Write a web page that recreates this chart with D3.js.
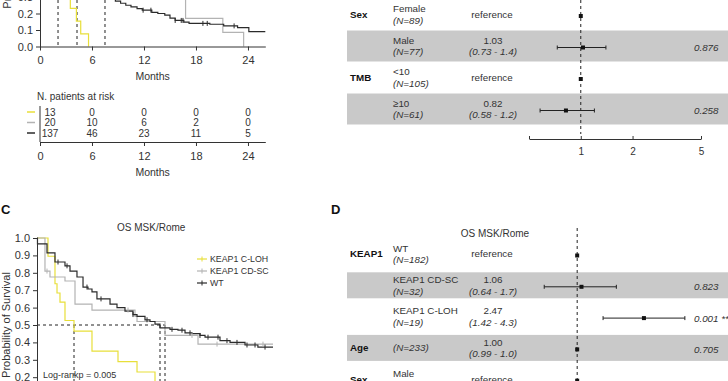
<!DOCTYPE html>
<html>
<head>
<meta charset="utf-8">
<title>KEAP1 survival</title>
<script src="https://d3js.org/d3.v7.min.js"></script>
<style>
  body { margin: 0; background: #fff; }
  svg { display: block; font-family: "Liberation Sans", Arial, sans-serif; }
  .axis text { fill: #333; }
  .axis path, .axis line { stroke: #333; }
</style>
</head>
<body>
<div id="chart"></div>
<script>
// ---------- data ----------
// group names / colours used by both KM panels
var groups = ['KEAP1 C-LOH', 'KEAP1 CD-SC', 'WT'];
var groupColors = ['#e8df3a', '#b3b3b3', '#2b2b2b'];

// panel B (top-left): [months, survival] steps, last point = end of follow-up
var bCloh = [[0,1],[0.5,0.92],[1,0.85],[1.5,0.69],[2.08,0.46],[3,0.38],[3.5,0.231],[4.2,0.154],[4.7,0.077],[5.6,0]];
var bCdsc = [[0,1],[1,0.95],[2,0.85],[3,0.75],[4,0.7],[5,0.6],[6,0.55],[7.5,0.45],[9,0.4],[11,0.35],[14,0.32],[16.8,0.17],[21.1,0.085],[23.5,0]];
var bWt = [[0,1],[0.5,0.93],[1,0.86],[1.5,0.8],[2,0.74],[2.5,0.68],[3,0.62],[3.5,0.57],[4.27,0.49],[5,0.44],[5.8,0.39],
           [6.5,0.35],[7.3,0.32],[8,0.3],[8.7,0.275],[9.3,0.262],[9.9,0.25],[10.5,0.24],[11.2,0.23],[11.8,0.22],
           [12.9,0.207],[13.6,0.2],[14.4,0.19],[15.0,0.172],[15.6,0.158],[16.6,0.148],[17.2,0.14],[19.6,0.135],
           [21.2,0.125],[22.8,0.115],[24.1,0.09],[26,0.09]];
var bWtCensor = [11.9, 12.8, 15.6, 16.3, 16.5, 18.8, 19.3, 22.4];
var bMedians = [2.08, 4.27, 7.5];
var bTicks = [0, 6, 12, 18, 24];

// risk table under panel B
var riskTimes = [0, 6, 12, 18, 24];
var riskCloh = [13, 0, 0, 0, 0];
var riskCdsc = [20, 10, 6, 2, 0];
var riskWt = [137, 46, 23, 11, 5];

// panel C: OS MSK/Rome
var cCloh = [[0,1],[2.33,0.895],[3.81,0.737],[4.24,0.684],[4.87,0.632],[5.93,0.526],[7.84,0.465],[11.65,0.35],
             [17.16,0.29],[21.19,0.23],[25.0,0.116],[31,0.116]];
var cCdsc = [[0,1],[1.69,0.81],[2.75,0.776],[5.93,0.753],[8.05,0.62],[11.65,0.586],[20.76,0.55],[21.19,0.52],
             [27.12,0.44],[34.11,0.39],[50,0.39]];
var cWt = [[0,1],[0.1,0.966],[2.12,0.914],[3.81,0.862],[5.93,0.84],[6.99,0.81],[8.47,0.776],[9.75,0.718],[10.8,0.707],
           [11.65,0.69],[12.7,0.65],[15.47,0.62],[16.95,0.6],[18.64,0.58],[20.34,0.56],[21.19,0.55],[22.88,0.53],
           [23.94,0.52],[25.0,0.505],[26.06,0.483],[28.18,0.475],[29.87,0.47],[31.36,0.455],[32.84,0.45],[34.53,0.44],
           [35.6,0.43],[38.77,0.41],[40.9,0.4],[44.07,0.385],[46.8,0.373],[50,0.373]];
var cWtCensor = [4.45, 6.36, 10.59, 13.56, 20.34, 23.31, 28.6, 30.72, 32.42, 34.53, 36.23, 38.35, 40.25, 42.37, 44.49, 46.19, 48.31];
var cCdscCensor = [2.12, 19.28, 32.84, 38.14, 47.88];
var cMedians = [7.84, 26.06, 27.12];
var survTicks = [0, 0.1, 0.2, 0.3, 0.4, 0.5, 0.6, 0.7, 0.8, 0.9, 1];

// forest (top-right)
var aVars = ['Sex', '', 'TMB', ''];
var aLevels = ['Female', 'Male', '<10', '\u226510'];
var aN = [89, 77, 105, 61];
var aHR = [1, 1.03, 1, 0.82];
var aLo = [null, 0.73, null, 0.58];
var aHi = [null, 1.4, null, 1.2];
var aP = ['', '0.876', '', '0.258'];
var forestTicks = [0.5, 1, 2, 5];

// forest D: OS MSK/Rome
var dVars = ['KEAP1', '', '', 'Age', 'Sex'];
var dLevels = ['WT', 'KEAP1 CD-SC', 'KEAP1 C-LOH', '', 'Male'];
var dN = [182, 32, 19, 233, 128];
var dHR = [1, 1.06, 2.47, 1.00, 1];
var dLo = [null, 0.64, 1.42, 0.99, null];
var dHi = [null, 1.7, 4.3, 1.0, null];
var dP = ['', '0.823', '0.001', '0.705', ''];
var dStars = ['', '', ' **', '', ''];

// ---------- drawing ----------
var width = 728, height = 381;
var svg = d3.select('#chart').append('svg').attr('width', width).attr('height', height);

var textCol = '#333';

function survAt(steps, t) {
  var s = steps[0][1];
  steps.forEach(function (d) { if (d[0] <= t) s = d[1]; });
  return s;
}

function drawKM(g, x, y, series, censors) {
  var line = d3.line().x(function (d) { return x(d[0]); }).y(function (d) { return y(d[1]); }).curve(d3.curveStepAfter);
  series.forEach(function (s, i) {
    g.append('path').attr('d', line(s)).attr('fill', 'none')
      .attr('stroke', groupColors[i]).attr('stroke-width', 1.2);
  });
  censors.forEach(function (c) {
    c.times.forEach(function (t) {
      var cx = x(t), cy = y(survAt(series[c.idx], t));
      g.append('line').attr('x1', cx).attr('x2', cx).attr('y1', cy - 2.5).attr('y2', cy + 2.5)
        .attr('stroke', groupColors[c.idx]).attr('stroke-width', 1);
    });
  });
}

function styleAxis(g, size) {
  g.attr('class', 'axis').attr('font-size', size).attr('font-family', null);
}

// ---- panel B ----
var xB = d3.scaleLinear().domain([0, 26]).range([40, 265.3]);
var yB = d3.scaleLinear().domain([0, 1]).range([46.5, -118.5]);
var gB = svg.append('g');

gB.append('text').attr('transform', 'translate(11,' + yB(0.55) + ') rotate(-90)')
  .attr('text-anchor', 'middle').attr('font-size', 11).attr('fill', textCol).text('Probability of Survival');

// medians
gB.append('line').attr('x1', xB(0)).attr('x2', xB(d3.max(bMedians))).attr('y1', yB(0.5)).attr('y2', yB(0.5))
  .attr('stroke', '#222').attr('stroke-dasharray', '3,3');
bMedians.forEach(function (m) {
  gB.append('line').attr('x1', xB(m)).attr('x2', xB(m)).attr('y1', yB(0.5)).attr('y2', yB(0))
    .attr('stroke', '#222').attr('stroke-dasharray', '3,3');
});

drawKM(gB, xB, yB, [bCloh, bCdsc, bWt], [{idx: 2, times: bWtCensor}]);

var yAxB = gB.append('g').attr('transform', 'translate(' + xB(0) + ',0)')
  .call(d3.axisLeft(yB).tickValues(survTicks).tickFormat(d3.format('.1f')).tickSize(4).tickSizeOuter(0));
styleAxis(yAxB, 11);
var xAxB = gB.append('g').attr('transform', 'translate(0,' + yB(0) + ')')
  .call(d3.axisBottom(xB).tickValues(bTicks).tickSize(4).tickSizeOuter(0).tickPadding(6));
styleAxis(xAxB, 11);
gB.append('text').attr('x', xB(13)).attr('y', 79.5).attr('text-anchor', 'middle')
  .attr('font-size', 10.5).attr('fill', textCol).text('Months');

// risk table
var riskRows = [riskCloh, riskCdsc, riskWt];
var yRisk = d3.scalePoint().domain([0, 1, 2]).range([112, 133]);
gB.append('text').attr('x', 37).attr('y', 99.5).attr('font-size', 10).attr('fill', textCol).text('N. patients at risk');
riskRows.forEach(function (row, i) {
  gB.append('line').attr('x1', 27).attr('x2', 35).attr('y1', yRisk(i)).attr('y2', yRisk(i))
    .attr('stroke', groupColors[i]).attr('stroke-width', 1.5);
  row.forEach(function (v, j) {
    gB.append('text').attr('x', xB(riskTimes[j]) + (j === 0 ? 10 : 0)).attr('y', yRisk(i))
      .attr('dy', '0.35em').attr('text-anchor', 'middle').attr('font-size', 10).attr('fill', textCol).text(v);
  });
});
gB.append('line').attr('x1', xB(0)).attr('x2', xB(0)).attr('y1', 106).attr('y2', 142).attr('stroke', '#333');
var xAxR = gB.append('g').attr('transform', 'translate(0,142)')
  .call(d3.axisBottom(xB).tickValues(riskTimes).tickSize(4).tickSizeOuter(0).tickPadding(6));
styleAxis(xAxR, 11);
gB.append('text').attr('x', xB(13)).attr('y', 175.5).attr('text-anchor', 'middle')
  .attr('font-size', 10.5).attr('fill', textCol).text('Months');

// ---- panel C ----
var xC = d3.scaleLinear().domain([0, 50]).range([37, 273]);
var yC = d3.scaleLinear().domain([0, 1]).range([412, 238]);
var gC = svg.append('g');
gC.append('text').attr('x', 1).attr('y', 214).attr('font-size', 13).attr('font-weight', 'bold').attr('fill', '#111').text('C');
gC.append('text').attr('x', xC(24.2)).attr('y', 230.5).attr('text-anchor', 'middle')
  .attr('font-size', 10).attr('fill', textCol).text('OS MSK/Rome');
gC.append('text').attr('transform', 'translate(10,' + yC(0.5) + ') rotate(-90)')
  .attr('text-anchor', 'middle').attr('font-size', 11).attr('fill', textCol).text('Probability of Survival');

gC.append('line').attr('x1', xC(0)).attr('x2', xC(d3.max(cMedians))).attr('y1', yC(0.5)).attr('y2', yC(0.5))
  .attr('stroke', '#222').attr('stroke-dasharray', '3,3');
cMedians.forEach(function (m) {
  gC.append('line').attr('x1', xC(m)).attr('x2', xC(m)).attr('y1', yC(0.5)).attr('y2', yC(0))
    .attr('stroke', '#222').attr('stroke-dasharray', '3,3');
});

drawKM(gC, xC, yC, [cCloh, cCdsc, cWt], [{idx: 1, times: cCdscCensor}, {idx: 2, times: cWtCensor}]);

var yAxC = gC.append('g').attr('transform', 'translate(' + xC(0) + ',0)')
  .call(d3.axisLeft(yC).tickValues(survTicks).tickFormat(d3.format('.1f')).tickSize(4).tickSizeOuter(0));
styleAxis(yAxC, 11);

gC.append('text').attr('x', 43).attr('y', 378).attr('font-size', 9).attr('fill', textCol).text('Log-rankp = 0.005');

// legend
groups.forEach(function (name, i) {
  var ly = 259 + i * 12;
  gC.append('line').attr('x1', 197).attr('x2', 207).attr('y1', ly).attr('y2', ly)
    .attr('stroke', groupColors[i]).attr('stroke-width', 1.2);
  gC.append('line').attr('x1', 202).attr('x2', 202).attr('y1', ly - 2.5).attr('y2', ly + 2.5)
    .attr('stroke', groupColors[i]);
  gC.append('text').attr('x', 210).attr('y', ly).attr('dy', '0.35em').attr('font-size', 8.8)
    .attr('fill', textCol).text(name);
});

// ---- forest plots ----
var fmtHR = d3.format('.2f'), fmtLo = d3.format('.2f'), fmtHi = d3.format('.1f');
var fs = 9.8;

function drawForest(g, cfg) {
  var x = cfg.x;
  // stripes
  cfg.levels.forEach(function (l, i) {
    var cy = cfg.row(i);
    if (i % 2 === 1) {
      g.append('rect').attr('x', 347).attr('y', cy - cfg.band / 2).attr('width', width - 347).attr('height', cfg.band)
        .attr('fill', '#c9c9c9');
    }
  });
  g.append('line').attr('x1', x(1)).attr('x2', x(1)).attr('y1', cfg.dashTop).attr('y2', cfg.dashBottom)
    .attr('stroke', '#222').attr('stroke-dasharray', '3,3');
  cfg.levels.forEach(function (l, i) {
    var cy = cfg.row(i);
    if (cfg.vars[i]) {
      g.append('text').attr('x', 350).attr('y', cy).attr('dy', '0.35em').attr('font-size', fs)
        .attr('font-weight', 'bold').attr('fill', '#111').text(cfg.vars[i]);
    }
    var nLabel = '(N=' + cfg.n[i] + ')';
    if (l) {
      g.append('text').attr('x', 393).attr('y', cy - 5.8).attr('dy', '0.35em').attr('font-size', fs)
        .attr('fill', textCol).text(l);
      g.append('text').attr('x', 393).attr('y', cy + 5.8).attr('dy', '0.35em').attr('font-size', fs)
        .attr('font-style', 'italic').attr('fill', textCol).text(nLabel);
    } else {
      g.append('text').attr('x', 393).attr('y', cy).attr('dy', '0.35em').attr('font-size', fs)
        .attr('font-style', 'italic').attr('fill', textCol).text(nLabel);
    }
    if (cfg.lo[i] === null) {
      g.append('text').attr('x', 492).attr('y', cy).attr('dy', '0.35em').attr('text-anchor', 'middle')
        .attr('font-size', fs).attr('fill', textCol).text('reference');
    } else {
      g.append('text').attr('x', 493).attr('y', cy - 5.8).attr('dy', '0.35em').attr('text-anchor', 'middle')
        .attr('font-size', fs).attr('fill', textCol).text(fmtHR(cfg.hr[i]));
      g.append('text').attr('x', 493).attr('y', cy + 5.8).attr('dy', '0.35em').attr('text-anchor', 'middle')
        .attr('font-size', fs).attr('font-style', 'italic').attr('fill', textCol)
        .text('(' + fmtLo(cfg.lo[i]) + ' - ' + fmtHi(cfg.hi[i]) + ')');
      var x0 = x(cfg.lo[i]), x1 = x(cfg.hi[i]), my = cy + 1.5;
      g.append('line').attr('x1', x0).attr('x2', x1).attr('y1', my).attr('y2', my).attr('stroke', '#222');
      [x0, x1].forEach(function (xx) {
        g.append('line').attr('x1', xx).attr('x2', xx).attr('y1', my - 2).attr('y2', my + 2).attr('stroke', '#222');
      });
    }
    g.append('rect').attr('x', x(cfg.hr[i]) - 2).attr('y', cy - 0.5).attr('width', 4).attr('height', 4).attr('fill', '#111');
    if (cfg.p[i]) {
      g.append('text').attr('x', 694).attr('y', cy + 1.5).attr('dy', '0.35em').attr('font-size', fs)
        .attr('font-style', 'italic').attr('fill', textCol).text(cfg.p[i] + (cfg.stars ? cfg.stars[i] : ''));
    }
  });
}

// top-right forest
var xA = d3.scaleLog().domain([0.5, 5]).range([529, 701]);
var gA = svg.append('g');
drawForest(gA, {
  x: xA, levels: aLevels, vars: aVars, n: aN, hr: aHR, lo: aLo, hi: aHi, p: aP,
  row: function (i) { return 14.5 + i * 31.5; }, band: 31, dashTop: 0, dashBottom: 134
});
var axA = gA.append('g').attr('transform', 'translate(0,139)')
  .call(d3.axisBottom(xA).tickValues(forestTicks).tickSize(-3).tickSizeOuter(0).tickPadding(9)
    .tickFormat(function (d) { return d === 0.5 ? '' : d; }));
styleAxis(axA, 10);

// forest D
var xD = d3.scaleLog().domain([0.5, 5]).range([526, 696]);
var gD = svg.append('g');
gD.append('text').attr('x', 331).attr('y', 214).attr('font-size', 13).attr('font-weight', 'bold').attr('fill', '#111').text('D');
gD.append('text').attr('x', 495).attr('y', 236.5).attr('text-anchor', 'middle').attr('font-size', 10)
  .attr('fill', textCol).text('OS MSK/Rome');
drawForest(gD, {
  x: xD, levels: dLevels, vars: dVars, n: dN, hr: dHR, lo: dLo, hi: dHi, p: dP, stars: dStars,
  row: function (i) { return 254 + i * 31.3; }, band: 26, dashTop: 228, dashBottom: height
});
</script>
</body>
</html>
